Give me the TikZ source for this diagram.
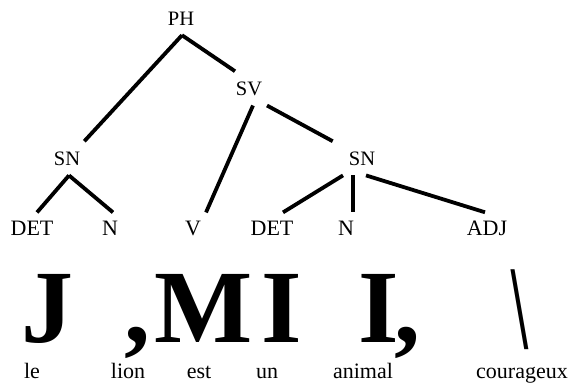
\documentclass[tikz,border=0pt]{standalone}
\usepackage{fontspec}
\setmainfont{Liberation Serif}
\usepackage{tikz}

\begin{document}
\begin{tikzpicture}[
        x=1pt, y=-1pt,
        cat/.style={inner xsep=0pt, inner ysep=10pt, anchor=base, font=\fontsize{20.5}{24}\selectfont},
        leaf/.style={inner xsep=0pt, inner ysep=8pt, anchor=base, font=\fontsize{22}{26}\selectfont},
        word/.style={inner sep=0pt, anchor=base, font=\fontsize{22}{26}\selectfont},
        glyph/.style={inner sep=0pt, anchor=base, font=\fontsize{104}{104}\selectfont\bfseries},
        branch/.style={line width=3.8pt}
    ]
        \useasboundingbox (0,0) rectangle (573,384);

        % Categories
        \node[cat] (ph) at (181,25) {PH};
        \node[cat] (sv) at (249,95) {SV};
        \node[cat] (snl) at (67,165) {SN};
        \node[cat] (snr) at (362,165) {SN};

        % Leaves
        \node[leaf] (detl) at (32,235) {DET};
        \node[leaf] (nl) at (110,235) {N};
        \node[leaf] (v) at (193,235) {V};
        \node[leaf] (detr) at (272,235) {DET};
        \node[leaf] (nr) at (346,235) {N};
        \node[leaf] (adj) at (487,235) {ADJ};

        % Big glyphs
        \node[glyph] (gj) at (47,342) {J};
        \node[glyph] (gc1) at (137,342) {,};
        \node[glyph] (gm) at (204,342) {M};
        \node[glyph] (gi1) at (282,342) {I};
        \node[glyph] (gi2) at (379,342) {I};
        \node[glyph] (gc2) at (407,342) {,};
        \node[glyph, anchor=center] (gbs) at (520,310) {\scalebox{0.58}[1.15]{\textbackslash}};

        % Words
        \node[word] (le) at (32,378) {le};
        \node[word] (lion) at (128,378) {lion};
        \node[word] (est) at (199,378) {est};
        \node[word] (un) at (267,378) {un};
        \node[word] (animal) at (363,378) {animal};
        \node[word] (cour) at (522,378) {courageux};

        % Branches
        \draw[branch] ([xshift=1pt]ph.south) -- ([xshift=4pt]snl.north east);
        \draw[branch] ([xshift=1pt]ph.south) -- ([xshift=-14pt]sv.north);
        \draw[branch] ([xshift=4pt]sv.south) -- ([xshift=13pt]v.north);
        \draw[branch] ([xshift=18pt]sv.south) -- ([xshift=-16pt]snr.north west);
        \draw[branch] ([xshift=2pt]snl.south) -- ([xshift=5pt]detl.north);
        \draw[branch] ([xshift=2pt]snl.south) -- ([xshift=3pt]nl.north);
        \draw[branch] ([xshift=-19pt]snr.south) -- ([xshift=11pt]detr.north);
        \draw[branch] ([xshift=-9pt]snr.south) -- ([xshift=7pt]nr.north);
        \draw[branch] ([xshift=4pt]snr.south) -- ([xshift=-2pt]adj.north);

    \end{tikzpicture}
\end{document}
